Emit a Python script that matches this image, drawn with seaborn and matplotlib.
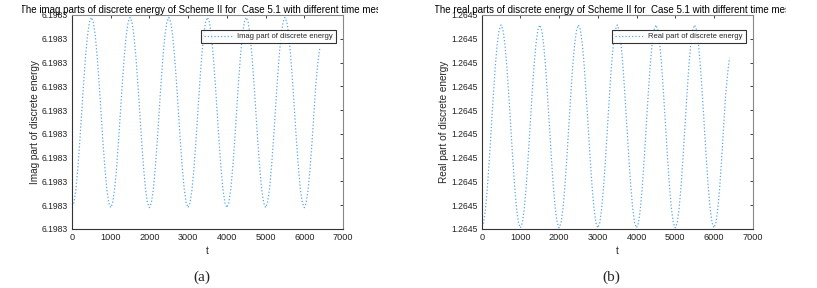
import numpy as np
import pandas as pd
import matplotlib
matplotlib.use('Agg')
import matplotlib.pyplot as plt
import seaborn as sns
from matplotlib.transforms import Bbox, TransformedBbox

sns.set_style('white')
plt.rcParams['font.family'] = ['Liberation Sans Narrow', 'Liberation Sans', 'DejaVu Sans']

# time samples (every 50 time units up to 6400)
t = np.arange(0, 6401, 50)

# imag part of discrete energy (in units of one y-tick step above the lowest tick)
imag_energy = [
    0.95, 1.1, 1.66, 2.55, 3.66, 4.9, 6.14, 7.25, 8.14, 8.7, 8.9, 8.7, 8.14, 7.25, 6.14, 4.9, 3.66, 2.55, 1.66, 1.1,
    0.9, 1.1, 1.66, 2.55, 3.66, 4.9, 6.14, 7.25, 8.14, 8.7, 8.9, 8.7, 8.14, 7.25, 6.14, 4.9, 3.66, 2.55, 1.66, 1.1,
    0.9, 1.1, 1.66, 2.55, 3.66, 4.9, 6.14, 7.25, 8.14, 8.7, 8.9, 8.7, 8.14, 7.25, 6.14, 4.9, 3.66, 2.55, 1.66, 1.1,
    0.9, 1.1, 1.66, 2.55, 3.66, 4.9, 6.14, 7.25, 8.14, 8.7, 8.9, 8.7, 8.14, 7.25, 6.14, 4.9, 3.66, 2.55, 1.66, 1.1,
    0.9, 1.1, 1.66, 2.55, 3.66, 4.9, 6.14, 7.25, 8.14, 8.7, 8.9, 8.7, 8.14, 7.25, 6.14, 4.9, 3.66, 2.55, 1.66, 1.1,
    0.9, 1.1, 1.66, 2.55, 3.66, 4.9, 6.14, 7.25, 8.14, 8.7, 8.9, 8.7, 8.14, 7.25, 6.14, 4.9, 3.66, 2.55, 1.66, 1.1,
    0.9, 1.1, 1.66, 2.55, 3.66, 4.9, 6.14, 7.0, 7.6,
]

# real part of discrete energy
real_energy = [
    0.1, 0.26, 0.87, 1.81, 3.0, 4.32, 5.63, 6.82, 7.77, 8.37, 8.58, 8.37, 7.77, 6.82, 5.63, 4.32, 3.0, 1.81, 0.87, 0.26,
    0.05, 0.26, 0.87, 1.81, 3.0, 4.32, 5.63, 6.82, 7.77, 8.37, 8.58, 8.37, 7.77, 6.82, 5.63, 4.32, 3.0, 1.81, 0.87, 0.26,
    0.05, 0.26, 0.87, 1.81, 3.0, 4.32, 5.63, 6.82, 7.77, 8.37, 8.58, 8.37, 7.77, 6.82, 5.63, 4.32, 3.0, 1.81, 0.87, 0.26,
    0.05, 0.26, 0.87, 1.81, 3.0, 4.32, 5.63, 6.82, 7.77, 8.37, 8.58, 8.37, 7.77, 6.82, 5.63, 4.32, 3.0, 1.81, 0.87, 0.26,
    0.05, 0.26, 0.87, 1.81, 3.0, 4.32, 5.63, 6.82, 7.77, 8.37, 8.58, 8.37, 7.77, 6.82, 5.63, 4.32, 3.0, 1.81, 0.87, 0.26,
    0.05, 0.26, 0.87, 1.81, 3.0, 4.32, 5.63, 6.82, 7.77, 8.37, 8.58, 8.37, 7.77, 6.82, 5.63, 4.32, 3.0, 1.81, 0.87, 0.26,
    0.05, 0.26, 0.87, 1.81, 3.0, 4.32, 5.63, 6.5, 7.2,
]

x_ticks = [0, 1000, 2000, 3000, 4000, 5000, 6000, 7000]
imag_tick_label = '6.1983'
real_tick_label = '1.2645'

panels = [
    dict(y=imag_energy, tick=imag_tick_label, ylabel='Imag part of discrete energy',
         legend='Imag part of discrete energy', caption='(a)',
         title='The imag parts of discrete energy of Scheme II for  Case 5.1 with different time meshes',
         left=72, title_x=20, clip=(21.5, 378)),
    dict(y=real_energy, tick=real_tick_label, ylabel='Real part of discrete energy',
         legend='Real part of discrete energy', caption='(b)',
         title='The real parts of discrete energy of Scheme II for  Case 5.1 with different time meshes',
         left=481.7, title_x=434, clip=(435, 786)),
]

W, H = 817, 288
fig = plt.figure(figsize=(W / 100, H / 100), dpi=100)
line_color = '#5aa8e6'

for p in panels:
    ax = fig.add_axes([p['left'] / W, (H - 229) / H, 271 / W, 214 / H])
    df = pd.DataFrame({'t': t, 'v': p['y']})
    sns.lineplot(data=df, x='t', y='v', ax=ax, color=line_color, linestyle=':',
                 linewidth=0.9, label=p['legend'])
    ax.set_xlim(0, 7000)
    ax.set_ylim(0, 9)
    ax.set_xticks(x_ticks)
    ax.set_xticklabels([str(v) for v in x_ticks], fontsize=6.6)
    ax.set_yticks(range(10))
    ax.set_yticklabels([p['tick']] * 10, fontsize=6.2)
    ax.tick_params(direction='in', length=2.5, width=0.6, top=True, right=True,
                   pad=3, colors='#222222')
    for s in ['left', 'bottom']:
        ax.spines[s].set_color('#333333')
        ax.spines[s].set_linewidth(0.8)
    for s in ['top', 'right']:
        ax.spines[s].set_color('#888888')
        ax.spines[s].set_linewidth(0.8)
    ax.set_xlabel('t', fontsize=7, labelpad=3)
    ax.set_ylabel(p['ylabel'], fontsize=7.2, labelpad=1.5)
    leg = ax.legend(loc='upper right', bbox_to_anchor=(0.974, 0.93), borderaxespad=0,
                    fontsize=5.5, frameon=True, fancybox=False, handlelength=3.8,
                    borderpad=0.4, handletextpad=0.5)
    leg.get_frame().set_edgecolor('black')
    leg.get_frame().set_linewidth(0.8)

    txt = fig.text(p['title_x'] / W, (H - 10) / H, p['title'], ha='left', va='center',
                   fontsize=7.0, color='black')
    txt.set_clip_box(TransformedBbox(Bbox([[p['clip'][0] / W, 0], [p['clip'][1] / W, 1]]),
                                     fig.transFigure))
    txt.set_clip_on(True)

    fig.text((p['left'] + 130) / W, (H - 277) / H, p['caption'], ha='center', va='center',
             fontsize=11, family='Liberation Serif')

fig.savefig('out.png', dpi=100)
